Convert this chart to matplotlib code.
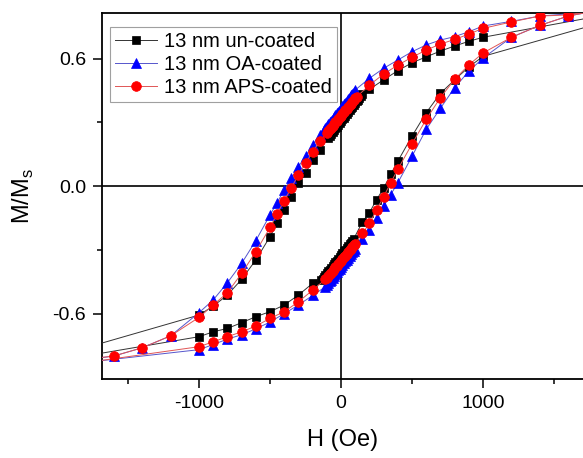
import matplotlib
matplotlib.use("Agg")
import matplotlib.pyplot as plt
from matplotlib.ticker import FixedLocator

plt.rcParams['font.family'] = ['Liberation Sans', 'DejaVu Sans']
plt.rcParams['axes.unicode_minus'] = False

labels = ["13 nm un-coated", "13 nm OA-coated", "13 nm APS-coated"]

# 13 nm un-coated: descending branch then ascending branch
h_black_down = [2000, 1000, 900, 800, 700, 600, 500, 400, 300, 200,
                150, 140, 130, 120, 110, 100, 90, 80, 70, 60, 50, 40, 30, 20, 10, 0,
                -10, -20, -30, -40, -50, -60, -70, -80, -90,
                -150, -200, -250, -300, -350, -400, -450, -500,
                -600, -700, -800, -900, -1000, -2000]
m_black_down = [0.822, 0.700, 0.681, 0.659, 0.635, 0.608, 0.580, 0.543, 0.500, 0.455,
                0.433, 0.424, 0.416, 0.407, 0.399, 0.390, 0.382, 0.373, 0.365, 0.356,
                0.348, 0.339, 0.331, 0.322, 0.314, 0.305,
                0.296, 0.288, 0.279, 0.271, 0.262, 0.254, 0.245, 0.237, 0.228,
                0.169, 0.122, 0.060, 0.013, -0.050, -0.113, -0.175, -0.238,
                -0.348, -0.439, -0.513, -0.565, -0.607, -0.800]
h_black_up = [-2000, -1000, -900, -800, -700, -600, -500, -400, -300, -200,
              -140, -130, -120, -110, -100, -90, -80, -70, -60, -50, -40, -30, -20, -10, 0,
              10, 20, 30, 40, 50, 60, 70, 80, 90,
              150, 200, 250, 300, 350, 400, 500, 600, 700, 800, 900, 1000, 2000]
m_black_up = [-0.822, -0.709, -0.686, -0.670, -0.643, -0.615, -0.591, -0.560, -0.513, -0.458,
              -0.444, -0.436, -0.427, -0.419, -0.410, -0.402, -0.393, -0.385, -0.376,
              -0.368, -0.359, -0.351, -0.342, -0.334, -0.325,
              -0.317, -0.308, -0.300, -0.291, -0.283, -0.274, -0.266, -0.257, -0.248,
              -0.170, -0.125, -0.065, -0.010, 0.055, 0.117, 0.235, 0.345, 0.436,
              0.500, 0.560, 0.610, 0.800]

# 13 nm OA-coated
h_blue_down = [2000, 1600, 1400, 1200, 1000, 900, 800, 700, 600, 500, 400, 300, 200,
               100, 90, 80, 70, 60, 50, 40, 30, 20, 10, 0,
               -10, -20, -30, -40, -50, -60, -70, -80, -90, -100, -110, -120,
               -150, -200, -250, -300, -350, -400, -450, -500,
               -600, -700, -800, -900, -1000, -1200, -1400, -1600, -2000]
m_blue_down = [0.860, 0.810, 0.800, 0.775, 0.753, 0.726, 0.703, 0.687, 0.664, 0.632,
               0.593, 0.554, 0.507,
               0.452, 0.444, 0.435, 0.427, 0.418, 0.410, 0.401, 0.393, 0.384, 0.376, 0.367,
               0.359, 0.350, 0.342, 0.333, 0.325, 0.316, 0.308, 0.299, 0.291, 0.282,
               0.274, 0.265,
               0.240, 0.193, 0.141, 0.091, 0.036, -0.019, -0.078, -0.136,
               -0.257, -0.364, -0.455, -0.536, -0.596, -0.705, -0.761, -0.800, -0.835]
h_blue_up = [-2000, -1000, -900, -800, -700, -600, -500, -400, -300, -200,
             -110, -100, -90, -80, -70, -60, -50, -40, -30, -20, -10, 0,
             10, 20, 30, 40, 50, 60, 70, 80, 90, 100,
             150, 200, 250, 300, 350, 400, 500, 600, 700, 800, 900, 1000,
             1200, 1400, 1600, 2000]
m_blue_up = [-0.845, -0.770, -0.746, -0.720, -0.700, -0.672, -0.640, -0.600, -0.560, -0.515,
             -0.474, -0.465, -0.457, -0.448, -0.440, -0.431, -0.423, -0.414, -0.406,
             -0.397, -0.389, -0.380,
             -0.372, -0.363, -0.355, -0.346, -0.338, -0.329, -0.321, -0.312, -0.304, -0.295,
             -0.250, -0.205, -0.152, -0.095, -0.040, 0.015, 0.140, 0.267, 0.366,
             0.463, 0.540, 0.602, 0.700, 0.756, 0.800, 0.850]

# 13 nm APS-coated
h_red_down = [2000, 1600, 1400, 1200, 1000, 900, 800, 700, 600, 500, 400, 300, 200,
              110, 100, 90, 80, 70, 60, 50, 40, 30, 20, 10, 0,
              -10, -20, -30, -40, -50, -60, -70, -80, -90, -100,
              -150, -200, -250, -300, -350, -400, -450, -500,
              -600, -700, -800, -900, -1000, -1200, -1400, -1600, -2000]
m_red_down = [0.855, 0.805, 0.800, 0.772, 0.742, 0.715, 0.690, 0.668, 0.640, 0.606,
              0.569, 0.527, 0.475,
              0.420, 0.412, 0.404, 0.396, 0.388, 0.380, 0.372, 0.364, 0.356, 0.348, 0.340, 0.331,
              0.323, 0.315, 0.307, 0.299, 0.291, 0.283, 0.275, 0.267, 0.259, 0.251,
              0.210, 0.161, 0.107, 0.052, -0.008, -0.069, -0.130, -0.195,
              -0.309, -0.411, -0.502, -0.560, -0.618, -0.705, -0.761, -0.800, -0.830]
h_red_up = [-2000, -1000, -900, -800, -700, -600, -500, -400, -300, -200,
            -110, -100, -90, -80, -70, -60, -50, -40, -30, -20, -10, 0,
            10, 20, 30, 40, 50, 60, 70, 80, 90, 100,
            150, 200, 250, 300, 350, 400, 500, 600, 700, 800, 900, 1000,
            1200, 1400, 1600, 2000]
m_red_up = [-0.850, -0.756, -0.733, -0.709, -0.686, -0.659, -0.623, -0.591, -0.545, -0.490,
            -0.439, -0.431, -0.423, -0.415, -0.407, -0.399, -0.391, -0.383, -0.375,
            -0.367, -0.359, -0.351,
            -0.343, -0.335, -0.327, -0.319, -0.311, -0.303, -0.295, -0.287, -0.279, -0.271,
            -0.223, -0.176, -0.113, -0.050, 0.015, 0.079, 0.198, 0.314, 0.416,
            0.502, 0.570, 0.626, 0.700, 0.756, 0.800, 0.850]

fig = plt.figure(figsize=(5.83, 4.58), dpi=100)
ax = fig.add_axes([0.175, 0.1725, 0.825, 0.799])

ax.axhline(0, color="black", lw=1.2, zorder=1)
ax.axvline(0, color="black", lw=1.2, zorder=1)

series = [
    (h_black_down + h_black_up, m_black_down + m_black_up, "#333333", "black", "s", 6),
    (h_blue_down + h_blue_up, m_blue_down + m_blue_up, "#5555cc", "#0000ff", "^", 7),
    (h_red_down + h_red_up, m_red_down + m_red_up, "#e05555", "#ff0000", "o", 7),
]
for (h, m, lc, mc, mk, ms), lab in zip(series, labels):
    ax.plot(h, m, color=lc, lw=0.7, marker=mk, markersize=ms,
            markerfacecolor=mc, markeredgecolor=mc, markeredgewidth=0.5,
            label=lab, zorder=3)

ax.set_xlim(-1683, 1704)
ax.set_ylim(-0.908, 0.814)

ax.xaxis.set_major_locator(FixedLocator([-1000, 0, 1000]))
ax.xaxis.set_minor_locator(FixedLocator([-1500, -500, 500, 1500]))
ax.yaxis.set_major_locator(FixedLocator([-0.6, 0.0, 0.6]))
ax.yaxis.set_minor_locator(FixedLocator([-0.3, 0.3]))
ax.set_yticklabels(["-0.6", "0.0", "0.6"])
ax.tick_params(which="major", direction="out", length=6.5, width=1.1, labelsize=14, pad=5)
ax.tick_params(which="minor", direction="out", length=3.5, width=1.1)
ax.tick_params(top=False, right=False)

for s in ["left", "bottom", "top"]:
    ax.spines[s].set_linewidth(1.3)
ax.spines["right"].set_visible(False)

ax.set_xlabel("H (Oe)", fontsize=17, labelpad=12)
ax.set_ylabel("M/M$_\\mathregular{s}$", fontsize=17, labelpad=12)

leg = ax.legend(loc="upper left", bbox_to_anchor=(0.0166, 0.962), fontsize=14.5,
                frameon=True, fancybox=False, edgecolor="#888888",
                handlelength=2.1, handletextpad=0.35, borderpad=0.25, labelspacing=0.2,
                borderaxespad=0.0)
leg.get_frame().set_linewidth(0.8)

fig.savefig("out.png", dpi=100)
